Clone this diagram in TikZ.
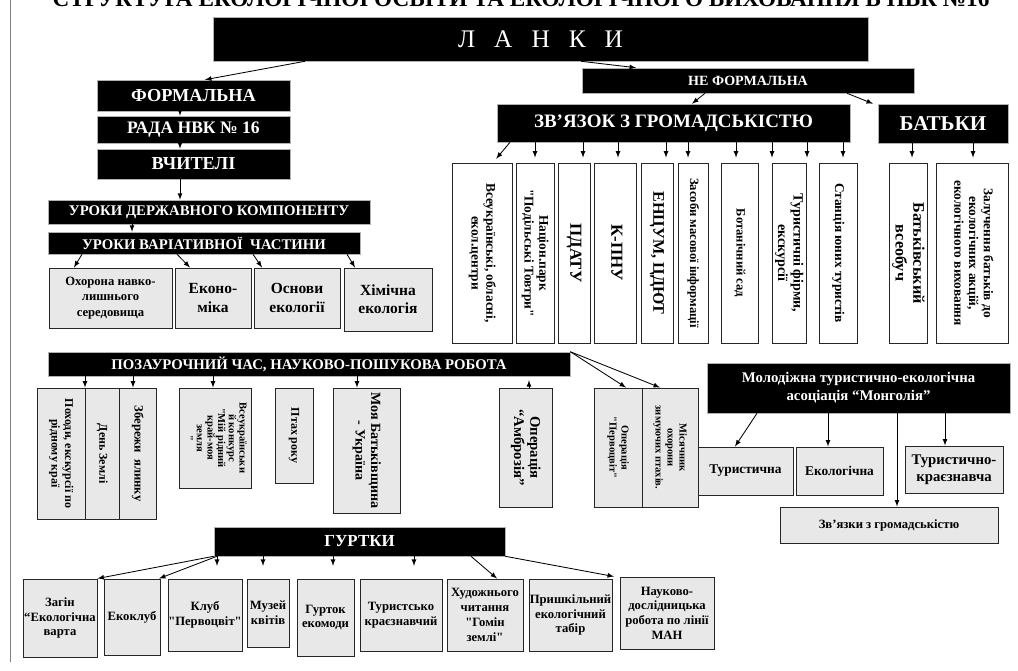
\documentclass[tikz,border=0pt]{standalone}
\usepackage{fontspec}
\setmainfont{Liberation Serif}[Ligatures=TeXOff]
\newcommand\vtx[1]{\rotatebox{-90}{\begin{tabular}{@{}c@{}}#1\end{tabular}}}
\newcommand\fsz[2]{\fontsize{#1}{#2}\selectfont\bfseries}
\begin{document}
\begin{tikzpicture}
      [
      x=0.025cm, y=-0.025cm,
      sz/.style 2 args={minimum width=#1*0.025cm,minimum height=#2*0.025cm},
      blk/.style={fill=black,draw=gray!60,text=white,inner sep=0pt,align=center},
      gry/.style={fill=gray!18,draw=black!85,line width=0.7pt,inner sep=0pt,align=center},
      wht/.style={fill=white,draw=black!85,line width=0.7pt,inner sep=0pt,align=center},
      arr/.style={-latex,line width=0.6pt},
      gap/.style={shorten >=#1pt}
      ]
      \useasboundingbox (0,0) rectangle (1018,670);
      \clip (0,0) rectangle (1018,670);
      \node (title) at (521,7) [anchor=base,font=\fsz{16.5}{17}] {СТРУКТУРА ЕКОЛОГІЧНОЇ ОСВІТИ ТА ЕКОЛОГІЧНОГО ВИХОВАННЯ В НВК №16};
      \draw [line width=0.6pt,gray] (10,0) -- (10,662);
      % formal
      \node (lanky) at (540.5,39) [blk,sz={655}{44},font=\fontsize{18}{18}\selectfont] {Л\hspace{0.75em}А\hspace{0.75em}Н\hspace{0.75em}К\hspace{0.75em}И};
      \node (formal) at (193.5,95.5) [blk,sz={193}{31},font=\fsz{13}{14}] {ФОРМАЛЬНА};
      \node (rada) at (193.5,129.5) [blk,sz={193}{27},font=\fsz{12.5}{14}] {РАДА НВК № 16};
      \node (vchyteli) at (193.5,164) [blk,sz={193}{30},font=\fsz{13}{14}] {ВЧИТЕЛІ};
      \node (urderzh) at (209,212) [blk,sz={322}{24},font=\fsz{10.5}{12}] {УРОКИ ДЕРЖАВНОГО КОМПОНЕНТУ};
      \node (urvar) at (204,243) [blk,sz={312}{22},font=\fsz{10.5}{12}] {УРОКИ ВАРІАТИВНОЇ\ \ ЧАСТИНИ};
      \node (g1) at (110.5,298) [gry,sz={123}{60},font=\fsz{9}{11}] {Охорона навко-\\лишнього\\середовища};
      \node (g2) at (213,298) [gry,sz={76}{60},font=\fsz{11}{13}] {Еконо-\\міка};
      \node (g3) at (297,298) [gry,sz={86}{60},font=\fsz{11}{13}] {Основи\\екології};
      \node (g4) at (388,299.5) [gry,sz={88}{63},font=\fsz{11}{13}] {Хімічна\\екологія};
      % not formal
      \node (neformal) at (748,80.5) [blk,sz={332}{25},font=\fsz{10}{12}] {НЕ ФОРМАЛЬНА};
      \node (zvyazok) at (673.5,123) [blk,sz={353}{38},font=\fsz{13.5}{15}] {ЗВ’ЯЗОК З ГРОМАДСЬКІСТЮ};
      \node (batky) at (943,123.5) [blk,sz={130}{39},font=\fsz{15}{16}] {БАТЬКИ};
      \node (v1) at (482,253) [wht,sz={60}{180},font=\fsz{9.5}{10.5}] {\vtx{Всеукраїнські, обласні,\\екол.центри}};
      \node (v2) at (535,253) [wht,sz={38}{180},font=\fsz{9.5}{10.5}] {\vtx{Націон.парк\\"Подільські Товтри"}};
      \node (v3) at (574,253) [wht,sz={32}{180},font=\fsz{12}{13}] {\vtx{ПДАТУ}};
      \node (v4) at (615,253) [wht,sz={42}{180},font=\fsz{12}{13}] {\vtx{К-ПНУ}};
      \node (v5) at (657,253) [wht,sz={32}{180},font=\fsz{11.5}{13}] {\vtx{ЕНЦУМ, ЦДЮТ}};
      \node (v6) at (693,253) [wht,sz={30}{180},font=\fsz{9}{10}] {\vtx{Засоби масової інформації}};
      \node (v7) at (739.5,253) [wht,sz={37}{180},font=\fsz{9}{10}] {\vtx{Ботанічний сад}};
      \node (v8) at (789,253) [wht,sz={34}{180},font=\fsz{10}{11}] {\vtx{Туристичні фірми,\\екскурсії}};
      \node (v9) at (838,253) [wht,sz={38}{180},font=\fsz{9.5}{10.5}] {\vtx{Станція юних туристів}};
      \node (v10) at (908,253) [wht,sz={38}{180},font=\fsz{11.5}{12.5}] {\vtx{Батьківський\\всеобуч}};
      \node (v11) at (972,253) [wht,sz={72}{180},font=\fsz{9.5}{10.5}] {\vtx{Залучення батьків до\\екологічних акцій,\\екологічного виховання}};
      % after lessons
      \node (pozaur) at (309,364) [blk,sz={522}{24},font=\fsz{10.5}{12}] {ПОЗАУРОЧНИЙ ЧАС, НАУКОВО-ПОШУКОВА РОБОТА};
      \node (p1) at (61,453.5) [gry,sz={48}{131},font=\fsz{8.5}{9.5}] {\vtx{Походи, екскурсії по\\рідному краї}};
      \node (p2) at (102,453.5) [gry,sz={34}{131},font=\fsz{8.5}{9.5}] {\vtx{День Землі}};
      \node (p3) at (137.5,453.5) [gry,sz={37}{131},font=\fsz{9}{10}] {\vtx{Збережи\ \ ялинку}};
      \node (p4) at (215,438) [gry,sz={72}{100},font=\fsz{7.5}{7.6}] {\vtx{Всеукраїнськи\\й конкурс\\"Мій рідний\\край-моя\\земля\\"}};
      \node (p5) at (294,435.5) [gry,sz={38}{95},font=\fsz{8.5}{9.5}] {\vtx{Птах року}};
      \node (p6) at (366.5,450.5) [gry,sz={67}{125},font=\fsz{10}{11}] {\vtx{Моя Батьківщина\\- Україна}};
      \node (p7) at (525.5,447.5) [gry,sz={53}{119},font=\fsz{10.5}{11.5}] {\vtx{Операція\\“Амброзія”}};
      \node (p8) at (618,447.5) [gry,sz={48}{119},font=\fsz{7.5}{8.5}] {\vtx{Операція\\"Первоцвіт"}};
      \node (p9) at (670,447.5) [gry,sz={56}{119},font=\fsz{7.5}{8.5}] {\vtx{Місячник\\охорони\\зимуючих птахів.}};
      % association
      \node (molod) at (858.5,388) [blk,sz={303}{50},font=\fsz{10.5}{13}] {Молодіжна туристично-екологічна\\асоціація “Монголія”};
      \node (m1) at (745.5,471) [gry,sz={95}{48},font=\fsz{9.5}{11}] {Туристична};
      \node (m2) at (839.5,471) [gry,sz={87}{48},font=\fsz{9.5}{11}] {Екологічна};
      \node (m3) at (954,469.5) [gry,sz={98}{47},font=\fsz{10.5}{12}] {Туристично-\\краєзнавча};
      \node (m4) at (889,525) [gry,sz={218}{36},font=\fsz{9}{11}] {Зв’язки з громадськістю};
      % clubs
      \node (gurtky) at (359.5,541.5) [blk,sz={291}{29},font=\fsz{12}{13}] {ГУРТКИ};
      \node (b1) at (60,618) [gry,sz={74}{78},font=\fsz{9}{10.5}] {Загін\\“Екологічна\\варта};
      \node (b2) at (132,617) [gry,sz={56}{76},font=\fsz{9}{10.5}] {Екоклуб};
      \node (b3) at (205,615) [gry,sz={74}{72},font=\fsz{9}{10.5}] {Клуб\\"Первоцвіт"};
      \node (b4) at (268,613) [gry,sz={42}{68},font=\fsz{9}{10.5}] {Музей\\квітів};
      \node (b5) at (325.5,617.5) [gry,sz={57}{77},font=\fsz{9}{10.5}] {Гурток\\екомоди};
      \node (b6) at (401,615) [gry,sz={82}{72},font=\fsz{9}{10.5}] {Туристсько\\краєзнавчий};
      \node (b7) at (485,615) [gry,sz={76}{72},font=\fsz{9}{10.5}] {Художнього\\читання\\"Гомін\\землі"};
      \node (b8) at (570.5,615) [gry,sz={83}{72},font=\fsz{9}{10.5}] {Пришкільний\\екологічний\\табір};
      \node (b9) at (667,613) [gry,sz={94}{72},font=\fsz{9}{10.5}] {Науково-\\дослідницька\\робота по лінії\\МАН};
      \draw [arr] (lanky.south -| 305,0) to (formal.north -| 205,0);
      \draw [arr] (lanky.south -| 581,0) to (neformal.north -| 636,0);
      \draw [arr] (formal.south -| 180,0) to (rada.north -| 180,0);
      \draw [arr] (rada.south -| 180,0) to (vchyteli.north -| 180,0);
      \draw [arr] (vchyteli.south -| 180,0) to (urderzh.north -| 180,0);
      \draw [arr] (urderzh.south -| 132,0) to (urvar.north -| 132,0);
      \draw [arr] (urvar.south -| 82,0) to (g1.north -| 74,0);
      \draw [arr] (urvar.south -| 177,0) to (g2.north -| 190,0);
      \draw [arr] (urvar.south -| 253,0) to (g3.north -| 262,0);
      \draw [arr] (urvar.south -| 347,0) to (g4.north -| 355,0);
      \draw [arr] (neformal.south -| 705,0) to (zvyazok.north -| 692,0);
      \draw [arr] (neformal.south -| 847,0) to (batky.north -| 873,0);
      \draw [arr,gap=3.5] (zvyazok.south -| 510,0) to (v1.north -| 493,0);
      \draw [arr,gap=3.5] (zvyazok.south -| 535,0) to (v2.north -| 535,0);
      \draw [arr,gap=3.5] (zvyazok.south -| 583,0) to (v3.north -| 583,0);
      \draw [arr,gap=3.5] (zvyazok.south -| 618,0) to (v4.north -| 618,0);
      \draw [arr,gap=3.5] (zvyazok.south -| 666,0) to (v5.north -| 666,0);
      \draw [arr,gap=3.5] (zvyazok.south -| 688,0) to (v6.north -| 688,0);
      \draw [arr,gap=3.5] (zvyazok.south -| 736,0) to (v7.north -| 736,0);
      \draw [arr,gap=3.5] (zvyazok.south -| 772,0) to (v8.north -| 772,0);
      \draw [arr,gap=3.5] (zvyazok.south -| 807,0) to (v8.north -| 807,0);
      \draw [arr,gap=3.5] (zvyazok.south -| 843,0) to (v9.north -| 843,0);
      \draw [arr,gap=3.5] (batky.south -| 912,0) to (v10.north -| 912,0);
      \draw [arr,gap=3.5] (batky.south -| 973,0) to (v11.north -| 973,0);
      \draw [arr] (pozaur.south -| 85,0) to (p1.north -| 85,0);
      \draw [arr] (pozaur.south -| 133,0) to (p3.north -| 133,0);
      \draw [arr] (pozaur.south -| 213,0) to (p4.north -| 213,0);
      \draw [arr] (pozaur.south -| 357,0) to (p6.north -| 357,0);
      \draw [arr,gap=2.8] (p7.north -| 529,0) to (pozaur.south -| 529,0);
      \draw [arr] (pozaur.north east) to (p8.north -| 626,0);
      \draw [arr] (pozaur.north east) to (p9.north -| 660,0);
      \draw [arr] (molod.south -| 757,0) to (m1.north -| 735,0);
      \draw [arr] (molod.south -| 828,0) to (m2.north -| 828,0);
      \draw [arr] (molod.south -| 945,0) to (m3.north -| 945,0);
      \draw [arr] (molod.south -| 897,0) to (m4.north -| 897,0);
      \draw [arr] (gurtky.south west) to (b1.north east);
      \draw [arr] (gurtky.south -| 217,0) to (b2.north -| 159,0);
      \draw [arr,gap=9] (gurtky.south -| 217,0) to (b3.north -| 217,0);
      \draw [arr,gap=9] (gurtky.south -| 263,0) to (b4.north -| 263,0);
      \draw [arr,gap=9] (gurtky.south -| 333,0) to (b5.north -| 333,0);
      \draw [arr,gap=9] (gurtky.south -| 414,0) to (b6.north -| 414,0);
      \draw [arr] (gurtky.south -| 471,0) to (b7.north -| 497,0);
      \draw [arr] (gurtky.south east) to (b9.north -| 614,0);
    \end{tikzpicture}
\end{document}
